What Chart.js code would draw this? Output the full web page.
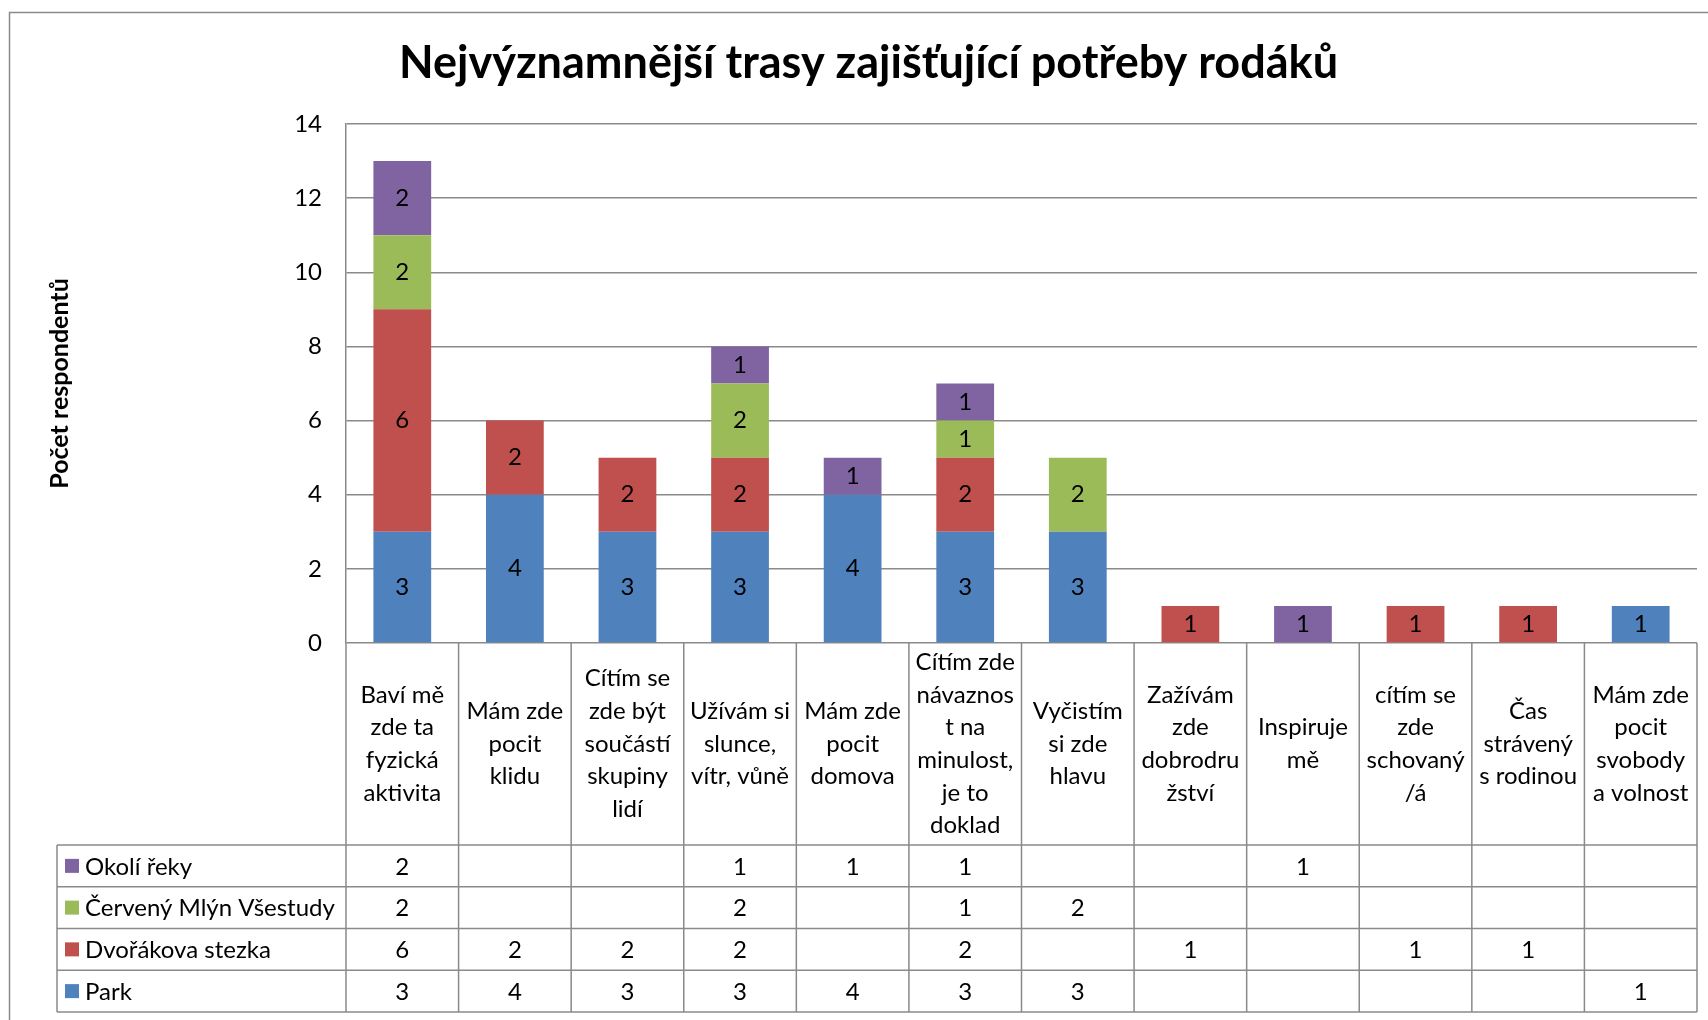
<!DOCTYPE html>
<html>
<head>
<meta charset="utf-8">
<script src="https://cdn.jsdelivr.net/npm/chart.js@4.4.1/dist/chart.umd.min.js"></script>
<style>
  html, body { margin: 0; padding: 0; background: #fff; }
  #wrap { width: 1708px; height: 1020px; }
</style>
</head>
<body>
<div id="wrap"><canvas id="c" width="1708" height="1020"></canvas></div>
<script>
// kategorie (zalomení řádků jako v originálu)
const categories = [
    ['Baví mě', 'zde ta', 'fyzická', 'aktivita'],
    ['Mám zde', 'pocit', 'klidu'],
    ['Cítím se', 'zde být', 'součástí', 'skupiny', 'lidí'],
    ['Užívám si', 'slunce,', 'vítr, vůně'],
    ['Mám zde', 'pocit', 'domova'],
    ['Cítím zde', 'návaznos', 't na', 'minulost,', 'je to', 'doklad'],
    ['Vyčistím', 'si zde', 'hlavu'],
    ['Zažívám', 'zde', 'dobrodru', 'žství'],
    ['Inspiruje', 'mě'],
    ['cítím se', 'zde', 'schovaný', '/á'],
    ['Čas', 'strávený', 's rodinou'],
    ['Mám zde', 'pocit', 'svobody', 'a volnost']
];

// hodnoty jednotlivých tras
const park       = [3, 4, 3, 3, 4, 3, 3, null, null, null, null, 1];
const dvorakova  = [6, 2, 2, 2, null, 2, null, 1, null, 1, 1, null];
const cervenyMlyn = [2, null, null, 2, null, 1, 2, null, null, null, null, null];
const okoliReky  = [2, null, null, 1, 1, 1, null, null, 1, null, null, null];

const seriesNames = ['Park', 'Dvořákova stezka', 'Červený Mlýn Všestudy', 'Okolí řeky'];
const seriesColors = ['#4F81BD', '#C0504D', '#9BBB59', '#8064A2'];

const yTicks = [0, 2, 4, 6, 8, 10, 12, 14];

const FONT = 'Lato, "Noto Sans", sans-serif';
const GRID = '#8a8a8a';

// popisky hodnot uvnitř sloupců + datová tabulka pod grafem
const tablePlugin = {
    id: 'dataTable',
    beforeDraw(chart) {
        const ctx = chart.ctx;
        ctx.save();
        ctx.strokeStyle = GRID;
        ctx.lineWidth = 1.5;
        ctx.strokeRect(9.5, 12.5, 1720, 1040);
        ctx.restore();
    },
    afterDraw(chart) {
        const ctx = chart.ctx;
        const area = chart.chartArea;
        const xs = chart.scales.x;
        const n = categories.length;
        const colW = (area.right - area.left) / n;
        const headBottom = 845;
        const rowH = 41.75;
        const legendLeft = 57;
        const tableBottom = headBottom + rowH * 4;

        ctx.save();
        // hodnoty ve sloupcích
        ctx.font = '24px ' + FONT;
        ctx.fillStyle = '#000';
        ctx.textAlign = 'center';
        ctx.textBaseline = 'middle';
        chart.data.datasets.forEach((ds, di) => {
            const meta = chart.getDatasetMeta(di);
            meta.data.forEach((el, i) => {
                const v = ds.data[i];
                if (v === null || v === undefined) return;
                ctx.fillText(String(v), el.x, (el.y + el.base) / 2);
            });
        });

        // čáry tabulky
        ctx.strokeStyle = GRID;
        ctx.lineWidth = 1.5;
        ctx.beginPath();
        for (let i = 0; i <= n; i++) {
            const x = area.left + i * colW;
            ctx.moveTo(x, area.bottom);
            ctx.lineTo(x, tableBottom);
        }
        for (let r = 0; r <= 4; r++) {
            const y = headBottom + r * rowH;
            ctx.moveTo(legendLeft, y);
            ctx.lineTo(area.right, y);
        }
        ctx.moveTo(legendLeft, headBottom);
        ctx.lineTo(legendLeft, tableBottom);
        ctx.stroke();

        // hlavička – názvy kategorií
        ctx.fillStyle = '#000';
        ctx.font = '24px ' + FONT;
        const lh = 32.7;
        categories.forEach((lines, i) => {
            const cx = xs.getPixelForValue(i);
            const mid = (area.bottom + headBottom) / 2;
            const y0 = mid - (lines.length - 1) * lh / 2;
            lines.forEach((t, k) => ctx.fillText(t, cx, y0 + k * lh));
        });

        // řádky tabulky (od horní řady stohu dolů)
        const order = [3, 2, 1, 0];
        order.forEach((di, r) => {
            const ds = chart.data.datasets[di];
            const cy = headBottom + r * rowH + rowH / 2;
            ctx.fillStyle = seriesColors[di];
            ctx.fillRect(65, cy - 7, 14, 14);
            ctx.fillStyle = '#000';
            ctx.textAlign = 'left';
            ctx.fillText(seriesNames[di], 85, cy + 1);
            ctx.textAlign = 'center';
            ds.data.forEach((v, i) => {
                if (v === null || v === undefined) return;
                ctx.fillText(String(v), xs.getPixelForValue(i), cy + 1);
            });
        });
        ctx.restore();
    }
};

const datasets = [park, dvorakova, cervenyMlyn, okoliReky].map((data, i) => ({
    label: seriesNames[i],
    data: data,
    backgroundColor: seriesColors[i],
    borderWidth: 0,
    categoryPercentage: 1,
    barPercentage: 0.513
}));

new Chart(document.getElementById('c'), {
    type: 'bar',
    data: {
        labels: categories.map(l => l.join(' ')),
        datasets: datasets
    },
    options: {
        responsive: false,
        animation: false,
        devicePixelRatio: 1,
        layout: {
            padding: { left: 40, top: 12, right: 11, bottom: 377 }
        },
        scales: {
            x: {
                stacked: true,
                display: false
            },
            y: {
                stacked: true,
                min: 0,
                max: 14,
                afterBuildTicks(scale) {
                    scale.ticks = yTicks.map(v => ({ value: v }));
                },
                afterFit(scale) {
                    scale.width = 306;
                },
                grid: {
                    color: GRID,
                    lineWidth: 1.5,
                    drawTicks: false
                },
                border: {
                    display: true,
                    color: GRID,
                    width: 1.5
                },
                ticks: {
                    padding: 24,
                    color: '#000',
                    font: { family: FONT, size: 24 }
                },
                title: {
                    display: true,
                    text: 'Počet respondentů',
                    color: '#000',
                    padding: { top: 5, bottom: 0 },
                    font: { family: FONT, size: 25, weight: 'bold', lineHeight: 1.2 }
                }
            }
        },
        plugins: {
            legend: { display: false },
            tooltip: { enabled: false },
            title: {
                display: true,
                text: 'Nejvýznamnější trasy zajišťující potřeby rodáků',
                color: '#000',
                padding: { top: 24, bottom: 34 },
                font: { family: FONT, size: 45, weight: 'bold', lineHeight: 1.2 }
            }
        }
    },
    plugins: [tablePlugin]
});
</script>
</body>
</html>
